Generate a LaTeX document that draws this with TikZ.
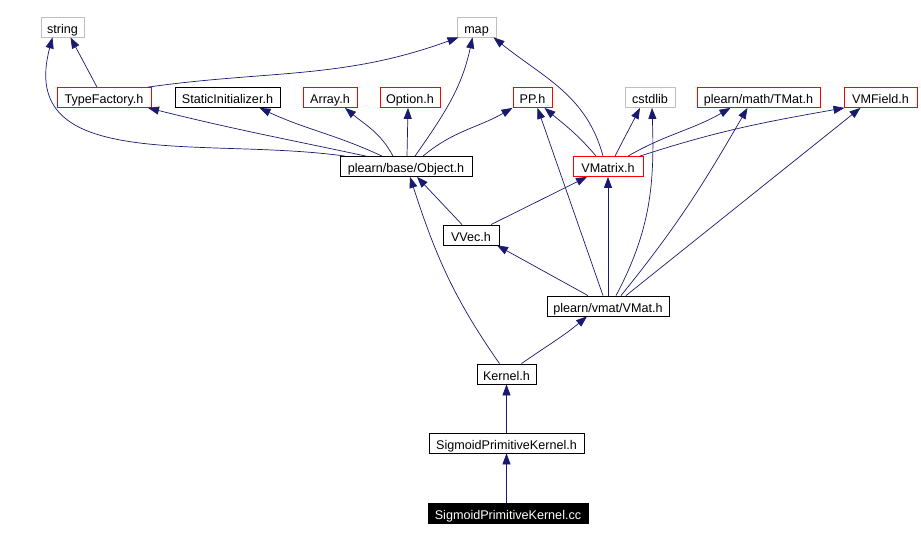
\documentclass[tikz,border=0pt]{standalone}
\usepackage{fontspec}
\setmainfont{Liberation Sans}
\usetikzlibrary{arrows.meta}
\definecolor{edgeblue}{HTML}{191970}
\definecolor{boxgray}{HTML}{BFBFBF}

\begin{document}
\begin{tikzpicture}[x=1pt,y=1pt]
\tikzset{
  hdr/.style={rectangle,draw=black,line width=0.8pt,minimum height=20,inner sep=1pt,
    text height=12.5pt,text depth=0pt,font=\fontsize{12.6}{14}\selectfont},
  hdrred/.style={hdr,draw=red},
  hdrgray/.style={hdr,draw=boxgray},
  srcfile/.style={hdr,fill=black,text=white},
  incl/.style={-{Triangle[length=11pt,width=8pt]},draw=edgeblue,line width=0.7pt}
}
\useasboundingbox (0,0) rectangle (921,540);
\node[hdrgray,minimum width=43] (n_string) at (62.5,513) {string};
\node[hdrgray,minimum width=39] (n_map) at (476.5,513) {map};
\node[hdrred,minimum width=94] (n_typefactory) at (104,442.5) {TypeFactory.h};
\node[hdr,minimum width=105] (n_staticinit) at (227.5,442.5) {StaticInitializer.h};
\node[hdrred,minimum width=54] (n_array) at (330,442.5) {Array.h};
\node[hdrred,minimum width=60] (n_option) at (410,442.5) {Option.h};
\node[hdrred,minimum width=39] (n_pp) at (532.5,442.5) {PP.h};
\node[hdrgray,minimum width=50] (n_cstdlib) at (650,442.5) {cstdlib};
\node[hdrred,minimum width=123] (n_tmat) at (758.5,442.5) {plearn/math/TMat.h};
\node[hdrred,minimum width=73] (n_vmfield) at (880.5,442.5) {VMField.h};
\node[hdr,minimum width=132] (n_object) at (406,373.5) {plearn/base/Object.h};
\node[hdrred,minimum width=70] (n_vmatrix) at (608,373.5) {VMatrix.h};
\node[hdr,minimum width=56] (n_vvec) at (471,305) {VVec.h};
\node[hdr,minimum width=122] (n_vmat) at (608,234) {plearn/vmat/VMat.h};
\node[hdr,minimum width=59] (n_kernel) at (506.5,166) {Kernel.h};
\node[hdr,minimum width=155] (n_spkh) at (506.5,97) {SigmoidPrimitiveKernel.h};
\node[srcfile,minimum width=160] (n_cc) at (508,26.5) {SigmoidPrimitiveKernel.cc};
% source and kernel
\draw[incl] ([xshift=-1.5pt]n_cc.north) -- (n_spkh.south);
\draw[incl] (n_spkh) -- (n_kernel);
\draw[incl] ([xshift=-7pt]n_kernel.north) to[out=125,in=-72] ([xshift=4pt]n_object.south);
\draw[incl] ([xshift=15pt]n_kernel.north) to[out=35,in=-140] ([xshift=-21pt]n_vmat.south);
% VMat.h
\draw[incl] ([xshift=-20pt]n_vmat.north) -- ([xshift=26pt]n_vvec.south);
\draw[incl] (n_vmat) -- (n_vmatrix);
\draw[incl] ([xshift=-5pt]n_vmat.north) -- ([xshift=5pt]n_pp.south);
\draw[incl] ([xshift=8pt]n_vmat.north) to[out=62,in=-88] ([xshift=2pt]n_cstdlib.south);
\draw[incl] ([xshift=13pt]n_vmat.north) to[out=51,in=-120] ([xshift=-11pt]n_tmat.south);
\draw[incl] ([xshift=18pt]n_vmat.north) -- ([xshift=-20pt]n_vmfield.south);
% VVec.h
\draw[incl] ([xshift=-9pt]n_vvec.north) -- ([xshift=11pt]n_object.south);
\draw[incl] ([xshift=20pt]n_vvec.north) -- ([xshift=-21pt]n_vmatrix.south);
% VMatrix.h
\draw[incl] ([xshift=-12pt]n_vmatrix.north) to[out=130,in=-40] ([xshift=12pt]n_pp.south);
\draw[incl] ([xshift=-5pt]n_vmatrix.north) to[out=105,in=-39] ([xshift=17pt]n_map.south);
\draw[incl] ([xshift=7pt]n_vmatrix.north) -- ([xshift=-10pt]n_cstdlib.south);
\draw[incl] ([xshift=20pt]n_vmatrix.north) to[out=30,in=-150] ([xshift=-28pt]n_tmat.south);
\draw[incl] ([xshift=32pt]n_vmatrix.north) to[out=18,in=-170] ([xshift=-36pt]n_vmfield.south);
% Object.h
\draw[incl] ([xshift=-61pt]n_object.north) to[out=172,in=-105,looseness=1.15] ([xshift=-10pt]n_string.south);
\draw[incl] ([xshift=-40pt]n_object.north) to[out=168,in=-14] ([xshift=44pt]n_typefactory.south);
\draw[incl] ([xshift=-24pt]n_object.north) to[out=155,in=-25] ([xshift=32pt]n_staticinit.south);
\draw[incl] ([xshift=-13pt]n_object.north) to[out=118,in=-40] ([xshift=15pt]n_array.south);
\draw[incl] ([xshift=1pt]n_object.north) -- ([xshift=-2pt]n_option.south);
\draw[incl] ([xshift=9pt]n_object.north) to[out=55,in=-102] ([xshift=-4pt]n_map.south);
\draw[incl] ([xshift=17pt]n_object.north) to[out=40,in=-150] ([xshift=-20pt]n_pp.south);
% TypeFactory.h
\draw[incl] ([xshift=-7pt]n_typefactory.north) -- ([xshift=8pt]n_string.south);
\draw[incl] ([xshift=44pt]n_typefactory.north) to[out=8,in=-160] ([xshift=-18pt]n_map.south);
\end{tikzpicture}
\end{document}
